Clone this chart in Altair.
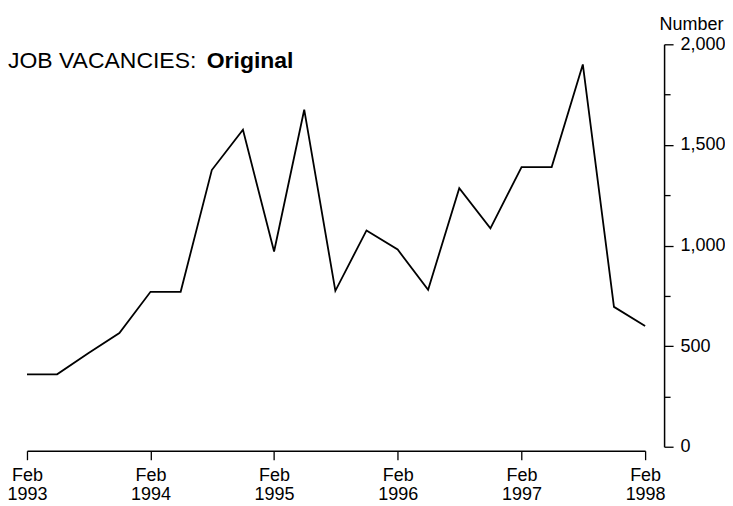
import altair as alt
import pandas as pd

# Quarterly job vacancies (number), Feb 1993 - Feb 1998
quarters = [
    "1993-02-01", "1993-05-01", "1993-08-01", "1993-11-01",
    "1994-02-01", "1994-05-01", "1994-08-01", "1994-11-01",
    "1995-02-01", "1995-05-01", "1995-08-01", "1995-11-01",
    "1996-02-01", "1996-05-01", "1996-08-01", "1996-11-01",
    "1997-02-01", "1997-05-01", "1997-08-01", "1997-11-01",
    "1998-02-01",
]
vacancies = [
    360, 360, 465, 565,
    770, 770, 1375, 1575,
    970, 1675, 775, 1075,
    980, 780, 1285, 1085,
    1390, 1390, 1900, 695,
    600,
]
tick_years = [1993, 1994, 1995, 1996, 1997, 1998]
y_ticks = [0, 250, 500, 750, 1000, 1250, 1500, 1750, 2000]

df = pd.DataFrame({"date": quarters, "value": vacancies})

FONT = "Liberation Sans"
W, H = 619, 403

x_enc = alt.X(
    "date:T",
    scale=alt.Scale(
        type="utc",
        domain=[alt.DateTime(year=1993, month=2, date=1, utc=True),
                alt.DateTime(year=1998, month=2, date=1, utc=True)],
    ),
    axis=alt.Axis(
        title=None,
        values=[alt.DateTime(year=y, month=2, date=1, utc=True) for y in tick_years],
        labelExpr="[utcFormat(datum.value, '%b'), utcFormat(datum.value, '%Y')]",
        labelFont=FONT, labelFontSize=18, labelLineHeight=19, labelColor="black",
        labelPadding=7, labelFlush=False, labelOverlap=False,
        offset=4, domainColor="black", domainWidth=1.5,
        tickColor="black", tickSize=9, tickWidth=1.3, grid=False,
    ),
)

y_enc = alt.Y(
    "value:Q",
    scale=alt.Scale(domain=[0, 2000], nice=False),
    axis=alt.Axis(
        orient="right", title="Number", titleAngle=0, titleFont=FONT,
        titleFontSize=18, titleFontWeight="normal", titleColor="black",
        titleAlign="center", titleBaseline="alphabetic", titleX=27, titleY=-15,
        values=y_ticks,
        labelExpr="datum.value % 500 === 0 ? datum.label : ''",
        labelFont=FONT, labelFontSize=18, labelColor="black", labelPadding=7,
        labelFlush=False, labelOverlap=False,
        offset=19, domainColor="black", domainWidth=1.5,
        tickColor="black", tickWidth=1.3,
        tickSize={"condition": {"test": "datum.value % 500 === 0", "value": 9}, "value": 6},
        grid=False,
    ),
)

line = alt.Chart(df).mark_line(color="black", strokeWidth=1.8).encode(x=x_enc, y=y_enc)

title_df = pd.DataFrame({"t1": ["JOB VACANCIES:"], "t2": ["Original"]})
t1 = alt.Chart(title_df).mark_text(
    font=FONT, fontSize=23, align="left", baseline="alphabetic", color="black"
).encode(text="t1:N", x=alt.value(-19), y=alt.value(24))
t2 = alt.Chart(title_df).mark_text(
    font=FONT, fontSize=23, fontWeight="bold", align="left", baseline="alphabetic", color="black"
).encode(text="t2:N", x=alt.value(180), y=alt.value(24))

chart = alt.layer(line, t1, t2).properties(
    width=W, height=H,
    background="white",
    autosize=alt.AutoSizeParams(type="none"),
    padding={"left": 19, "top": 36, "right": 80, "bottom": 61},
).configure_view(strokeWidth=0, stroke="transparent")

chart.save("out.html", embed_options={"renderer": "svg", "actions": False})
